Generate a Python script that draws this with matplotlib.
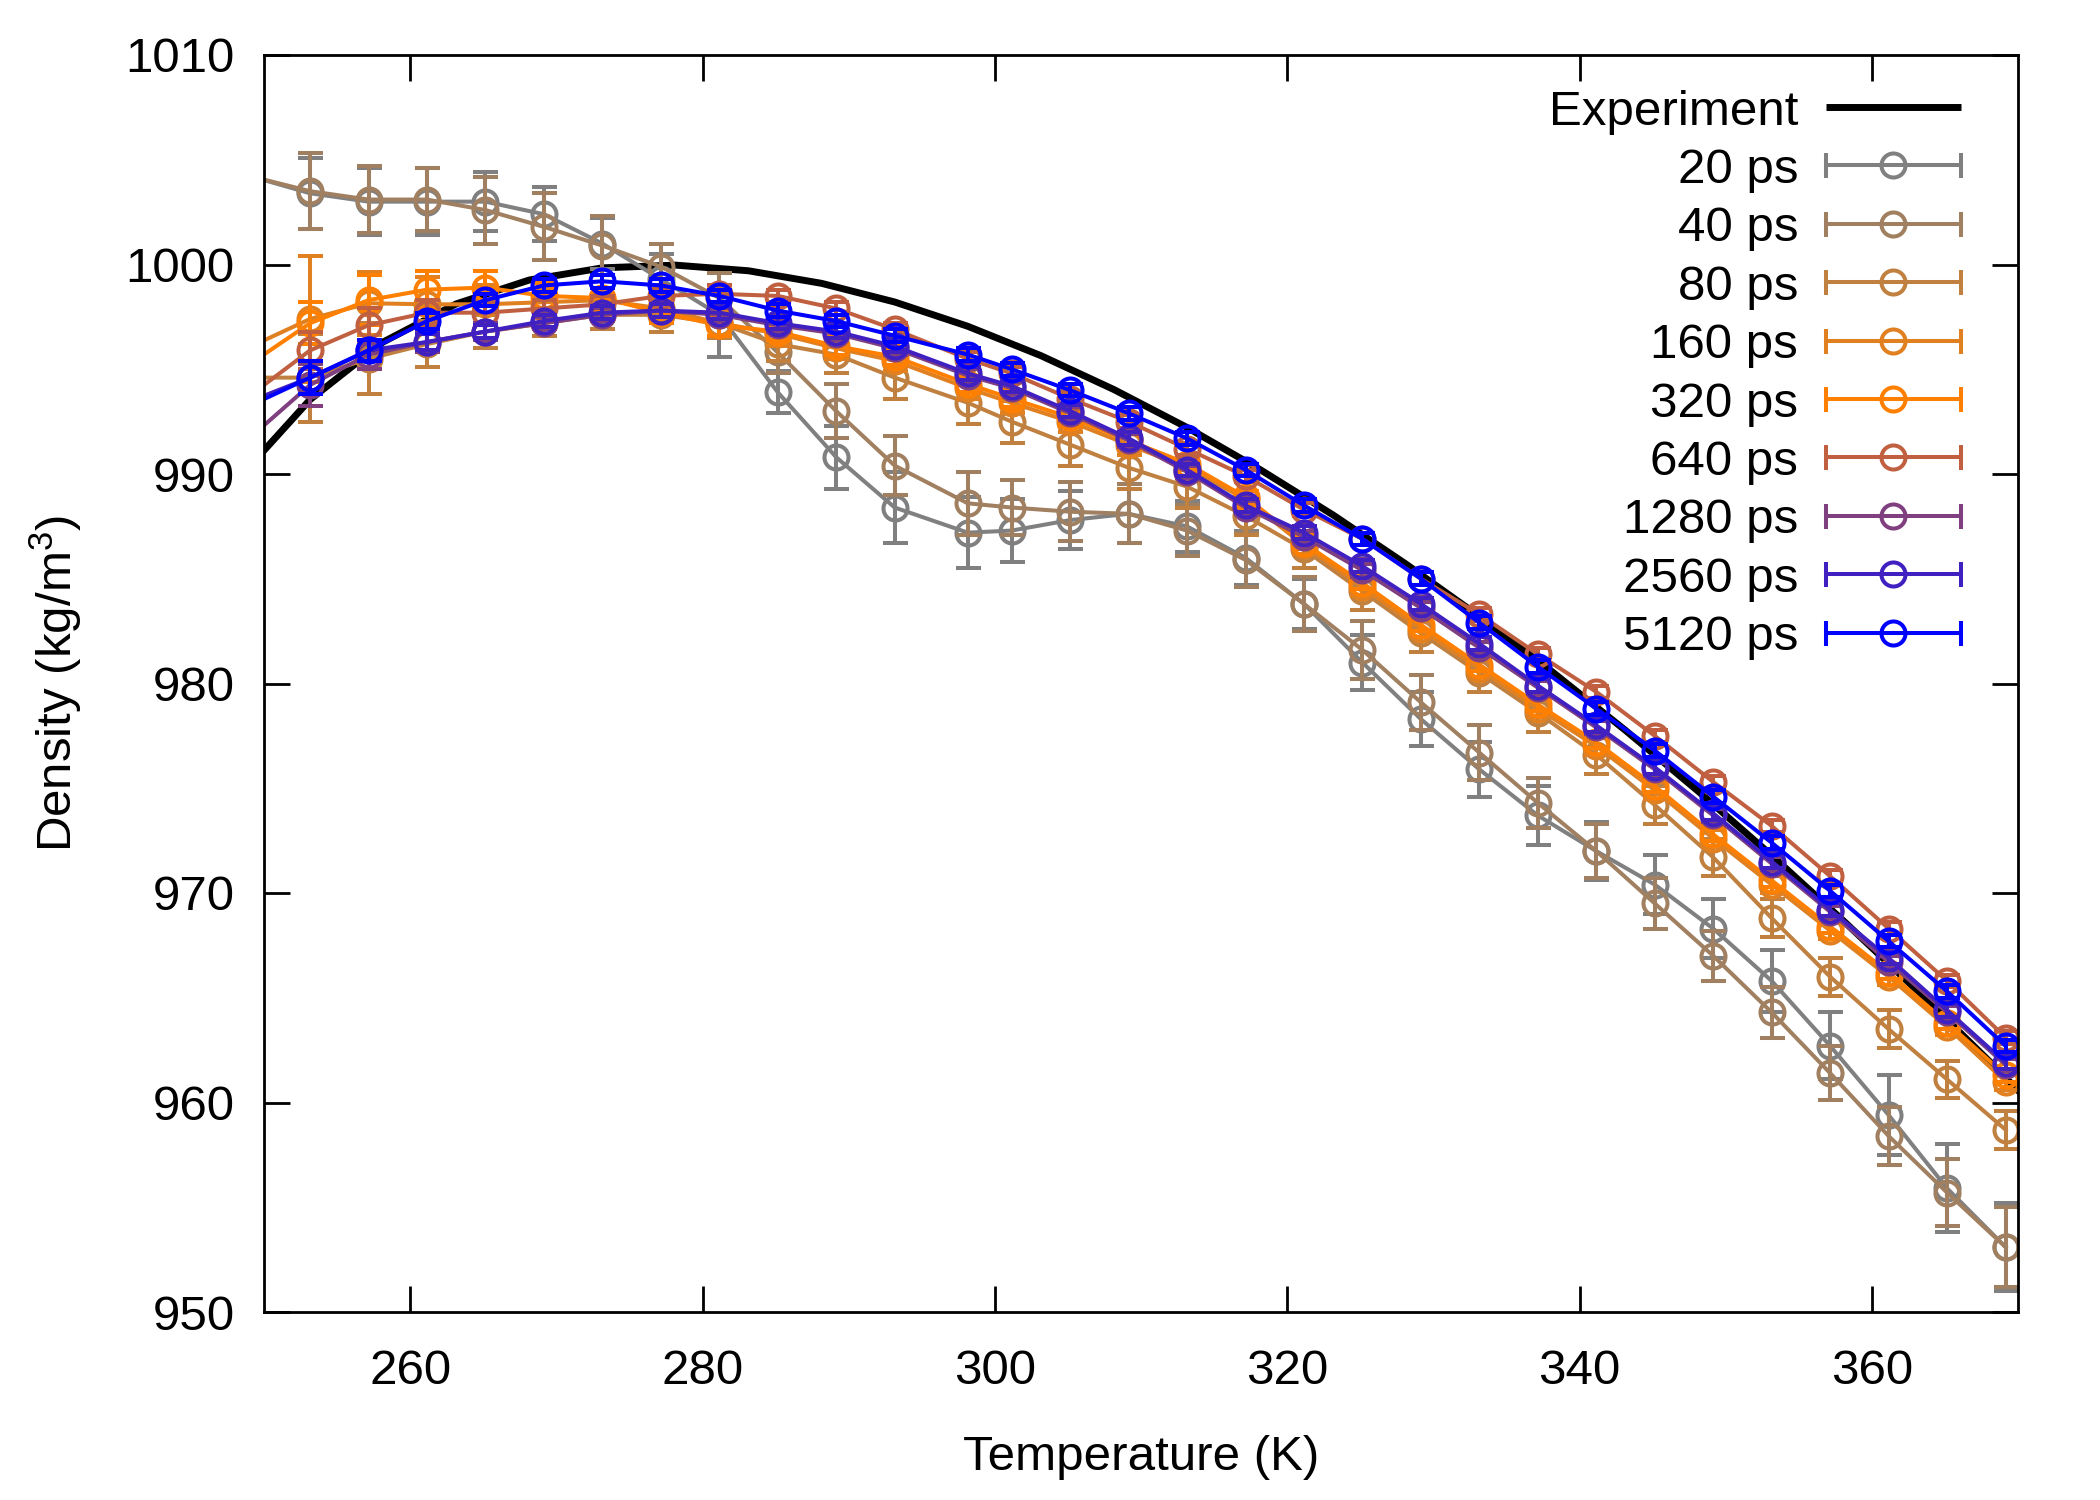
import matplotlib
matplotlib.use('Agg')
import matplotlib.pyplot as plt

plt.rcParams['font.family'] = ['Liberation Sans', 'DejaVu Sans']
plt.rcParams['mathtext.fontset'] = 'custom'
plt.rcParams['mathtext.rm'] = 'Liberation Sans'
plt.rcParams['mathtext.it'] = 'Liberation Sans:italic'

# ---------------- data ----------------
temperature = [249.15, 253.15, 257.15, 261.15, 265.15, 269.15, 273.15, 277.15, 281.15,
               285.15, 289.15, 293.15, 298.15, 301.15, 305.15, 309.15, 313.15, 317.15,
               321.15, 325.15, 329.15, 333.15, 337.15, 341.15, 345.15, 349.15, 353.15,
               357.15, 361.15, 365.15, 369.15]

exp_temperature = [248.15, 253.15, 258.15, 263.15, 268.15, 273.15, 278.15, 283.15, 288.15,
                   293.15, 298.15, 303.15, 308.15, 313.15, 318.15, 323.15, 328.15, 333.15,
                   338.15, 343.15, 348.15, 353.15, 358.15, 363.15, 368.15, 373.15]
exp_density = [989.7, 993.55, 996.3, 998.12, 999.26, 999.84, 999.97, 999.70, 999.10,
               998.21, 997.05, 995.65, 994.03, 992.22, 990.21, 988.04, 985.69, 983.20,
               980.55, 977.76, 974.84, 971.79, 968.61, 965.31, 961.89, 958.35]

labels = ['20 ps', '40 ps', '80 ps', '160 ps', '320 ps', '640 ps', '1280 ps', '2560 ps', '5120 ps']
colors = ['#808080', '#A08060', '#C08040', '#E08020', '#FF8000', '#C06040', '#804080', '#4020C0', '#0000FF']

d20 = [1004.2, 1003.4, 1003.0, 1003.0, 1003.0, 1002.4, 1001.0, 999.3, 997.6, 993.9, 990.8,
       988.4, 987.2, 987.3, 987.8, 988.1, 987.5, 986.0, 983.8, 981.0, 978.3, 975.9, 973.7,
       972.0, 970.4, 968.3, 965.8, 962.7, 959.4, 955.9, 953.1]
d40 = [1004.2, 1003.5, 1003.1, 1003.1, 1002.6, 1001.8, 1000.9, 999.9, 998.4, 995.8, 993.0,
       990.4, 988.6, 988.4, 988.2, 988.1, 987.3, 985.9, 983.8, 981.6, 979.1, 976.7, 974.3,
       972.0, 969.5, 967.0, 964.3, 961.4, 958.4, 955.7, 953.1]
d80 = [994.6, 994.6, 995.5, 996.2, 996.8, 997.2, 997.6, 997.6, 997.2, 996.2, 995.7,
       994.6, 993.4, 992.5, 991.4, 990.3, 989.4, 988.0, 986.4, 984.4, 982.4, 980.5, 978.6,
       976.6, 974.2, 971.7, 968.8, 966.0, 963.5, 961.1, 958.7]
d160 = [996.1, 997.4, 998.15, 998.1, 998.1, 998.2, 998.3, 997.9, 997.2, 996.7, 996.0,
        995.4, 994.1, 993.4, 992.5, 991.4, 990.3, 988.8, 986.6, 984.6, 982.6, 980.7, 978.8,
        977.0, 974.9, 972.6, 970.4, 968.2, 966.0, 963.6, 961.0]
d320 = [995.3, 997.2, 998.3, 998.8, 998.9, 998.5, 998.4, 997.7, 997.1, 996.8, 996.1,
        995.6, 994.3, 993.6, 992.7, 991.6, 990.5, 988.9, 986.7, 984.8, 982.8, 980.9, 979.0,
        977.2, 975.1, 972.8, 970.6, 968.4, 966.2, 963.8, 961.3]
d640 = [993.8, 995.9, 997.1, 997.7, 997.7, 997.9, 998.1, 998.5, 998.6, 998.5, 997.9,
        996.9, 995.5, 994.8, 993.6, 992.5, 991.2, 989.9, 988.3, 986.9, 985.0, 983.3, 981.4,
        979.6, 977.5, 975.3, 973.2, 970.8, 968.3, 965.8, 963.1]
d1280 = [991.8, 994.25, 995.7, 996.3, 996.8, 997.2, 997.6, 997.8, 997.6, 997.1, 996.7,
         996.0, 994.7, 994.1, 992.9, 991.6, 990.1, 988.4, 987.0, 985.4, 983.6, 981.7, 979.8,
         977.9, 975.9, 973.7, 971.4, 969.1, 966.7, 964.3, 961.8]
d2560 = [993.5, 994.6, 995.9, 996.3, 996.8, 997.3, 997.7, 997.8, 997.7, 997.2, 996.8,
         996.1, 994.8, 994.2, 993.0, 991.7, 990.2, 988.5, 987.2, 985.6, 983.8, 981.9, 979.9,
         978.0, 976.0, 973.8, 971.5, 969.2, 966.9, 964.4, 961.9]
d5120 = [993.3, 994.6, 995.9, 997.3, 998.3, 999.0, 999.2, 999.0, 998.5, 997.8, 997.3,
         996.6, 995.7, 995.0, 994.0, 992.9, 991.7, 990.2, 988.5, 986.9, 985.0, 982.9, 980.8,
         978.8, 976.8, 974.6, 972.4, 970.1, 967.7, 965.3, 962.7]

# error bars (for the 30 visible points, T >= 253.15)
e20 = [1.7, 1.6, 1.6, 1.4, 1.3, 1.2, 1.2, 2.0, 1.0, 1.5, 1.7, 1.7, 1.5, 1.4, 1.4, 1.2, 1.3,
       1.2, 1.3, 1.3, 1.3, 1.4, 1.4, 1.4, 1.4, 1.5, 1.6, 1.9, 2.1, 2.1]
e40 = [1.8, 1.6, 1.5, 1.6, 1.6, 1.4, 1.1, 1.2, 1.0, 1.3, 1.4, 1.5, 1.3, 1.4, 1.4, 1.2, 1.3,
       1.3, 1.4, 1.3, 1.3, 1.2, 1.3, 1.2, 1.2, 1.2, 1.3, 1.4, 1.6, 1.9]
e80 = [2.1, 1.7, 1.1, 0.8, 0.6, 0.7, 0.8, 0.7, 0.8, 0.9, 1.0, 1.0, 1.0, 1.0, 1.0, 1.0, 0.9,
       0.9, 0.9, 0.9, 0.9, 0.9, 0.9, 0.9, 0.9, 0.9, 0.9, 0.9, 0.9, 0.9]
e160 = [3.0, 1.5, 1.3, 0.9, 0.7, 0.6, 0.6, 0.6, 0.6, 0.5, 0.5, 0.5, 0.5, 0.5, 0.5, 0.5, 0.4,
        0.4, 0.4, 0.4, 0.4, 0.4, 0.4, 0.4, 0.4, 0.4, 0.4, 0.4, 0.4, 0.4]
e320 = [1.0, 1.2, 0.9, 0.8, 0.6, 0.5, 0.5, 0.5, 0.4, 0.4, 0.4, 0.4, 0.4, 0.4, 0.4, 0.3, 0.3,
        0.3, 0.3, 0.3, 0.3, 0.3, 0.3, 0.3, 0.3, 0.3, 0.3, 0.3, 0.3, 0.3]
e640 = [0.9, 0.8, 0.6, 0.5, 0.4, 0.4, 0.4, 0.4, 0.3, 0.3, 0.3, 0.3, 0.3, 0.3, 0.3, 0.3, 0.3,
        0.3, 0.3, 0.3, 0.3, 0.3, 0.3, 0.3, 0.3, 0.3, 0.3, 0.3, 0.3, 0.3]
e1280 = [1.0, 0.7, 0.5, 0.4, 0.3, 0.3, 0.3, 0.3, 0.3, 0.3, 0.3, 0.3, 0.3, 0.3, 0.3, 0.3, 0.3,
         0.3, 0.3, 0.3, 0.3, 0.3, 0.3, 0.3, 0.3, 0.3, 0.3, 0.3, 0.3, 0.3]
e2560 = [0.8, 0.5, 0.4, 0.3, 0.3, 0.3, 0.3, 0.3, 0.3, 0.3, 0.3, 0.3, 0.3, 0.3, 0.3, 0.3, 0.3,
         0.3, 0.3, 0.3, 0.3, 0.3, 0.3, 0.3, 0.3, 0.3, 0.3, 0.3, 0.3, 0.3]
e5120 = [0.8, 0.5, 0.4, 0.3, 0.3, 0.3, 0.3, 0.3, 0.3, 0.3, 0.3, 0.3, 0.3, 0.3, 0.3, 0.3, 0.3,
         0.3, 0.3, 0.3, 0.3, 0.3, 0.3, 0.3, 0.3, 0.3, 0.3, 0.3, 0.3, 0.3]

series = [d20, d40, d80, d160, d320, d640, d1280, d2560, d5120]
errors = [e20, e40, e80, e160, e320, e640, e1280, e2560, e5120]

xticks = [260, 280, 300, 320, 340, 360]
yticks = [950, 960, 970, 980, 990, 1000, 1010]

# ---------------- style ----------------
FS = 35.5
LW = 2.9
AXLW = 2.0
MS = 17.3
CAP = 9.0
EXPLW = 5.0

fig = plt.figure(figsize=(21, 15), dpi=100)
ax = fig.add_axes([264 / 2100, 1 - 1312 / 1500, (2018 - 264) / 2100, (1312 - 55) / 1500])

ax.plot(exp_temperature, exp_density, color='black', lw=EXPLW, zorder=2)

z = 3
for vals, errs, col in zip(series, errors, colors):
    ax.plot(temperature, vals, color=col, lw=LW, zorder=z)
    ax.errorbar(temperature[1:], vals[1:], yerr=errs, fmt='o', color=col, mfc='none',
                mec=col, ms=MS, mew=LW, elinewidth=LW, capsize=CAP, capthick=LW, zorder=z)
    z += 1

ax.set_xlim(250, 370)
ax.set_ylim(950, 1010)
ax.set_xticks(xticks)
ax.set_yticks(yticks)
ax.set_xticklabels([str(t) for t in xticks])
ax.set_yticklabels([str(t) for t in yticks])
ax.tick_params(direction='in', length=18.7, width=AXLW, top=True, right=True,
               labelsize=FS, color='black')
ax.tick_params(axis='y', pad=21)
ax.tick_params(axis='x', pad=26.5)
for s in ax.spines.values():
    s.set_linewidth(AXLW)
    s.set_zorder(50)

ax.set_xlabel('Temperature (K)', fontsize=FS, labelpad=30)
ax.set_ylabel('Density (kg/m$^3$)', fontsize=FS, labelpad=30)

# ---------------- legend (gnuplot style) ----------------
y0 = 0.9586
dy = 0.04646
xt = 0.8746
xa, xb = 0.8905, 0.9675
xm = (xa + xb) / 2
ax.text(xt, y0, 'Experiment', transform=ax.transAxes, ha='right', va='center_baseline',
        fontsize=FS, zorder=60)
ax.plot([xa, xb], [y0, y0], transform=ax.transAxes, color='black', lw=EXPLW,
        clip_on=False, zorder=60, solid_capstyle='butt')
for i, (lab, col) in enumerate(zip(labels, colors)):
    y = y0 - (i + 1) * dy
    ax.text(xt, y, lab, transform=ax.transAxes, ha='right', va='center_baseline',
            fontsize=FS, zorder=60)
    ax.plot([xa, xb], [y, y], transform=ax.transAxes, color=col, lw=LW,
            clip_on=False, zorder=60, solid_capstyle='butt')
    ax.plot([xa, xb], [y, y], transform=ax.transAxes, color=col, ls='none', marker='|',
            ms=2 * CAP, mew=LW, clip_on=False, zorder=60)
    ax.plot([xm], [y], transform=ax.transAxes, color=col, ls='none', marker='o',
            ms=MS, mfc='none', mew=LW, clip_on=False, zorder=60)

fig.savefig('out.png', dpi=100)
